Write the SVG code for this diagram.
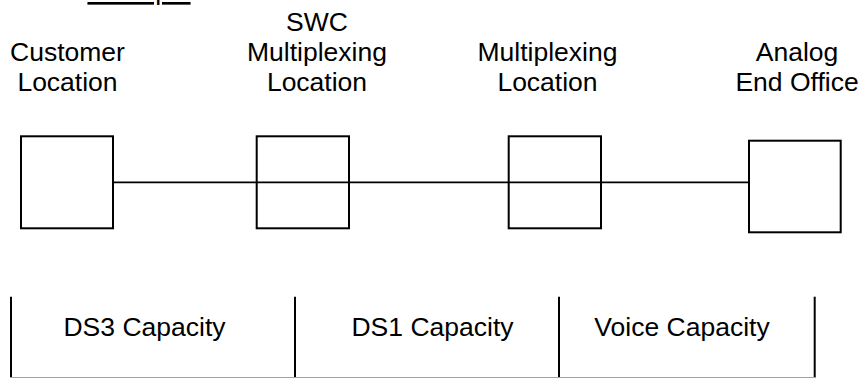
<svg xmlns="http://www.w3.org/2000/svg" width="864" height="378" viewBox="0 0 864 378">
<style>
text{font-family:"Liberation Sans",Arial,sans-serif;font-size:26.5px;fill:#000;text-anchor:middle}
.box{fill:#fff;stroke:#000;stroke-width:2}
.wire{stroke:#000;stroke-width:1.8;fill:none}
.div{stroke:#000;stroke-width:2;fill:none}
</style>
<rect width="864" height="378" fill="#fff"/>
<g id="title"><text x="139" y="0" text-decoration="underline">Example</text></g>
<g id="connectors">
<line class="wire" x1="113" y1="182.3" x2="749" y2="182.3"/>
</g>
<g id="customer">
<rect class="box" x="21" y="136.3" width="92" height="92"/>
<text x="67.5" y="61">Customer</text>
<text x="67.5" y="90.5">Location</text>
</g>
<g id="swc">
<rect class="box" x="256.7" y="136.3" width="92.3" height="92" fill-opacity="0"/>
<text x="317" y="31">SWC</text>
<text x="317" y="61">Multiplexing</text>
<text x="317" y="90.5">Location</text>
</g>
<g id="mux">
<rect class="box" x="508.7" y="136.3" width="92.3" height="92" fill-opacity="0"/>
<text x="547.5" y="61">Multiplexing</text>
<text x="547.5" y="90.5">Location</text>
</g>
<g id="endoffice">
<rect class="box" x="749" y="140.7" width="91.7" height="91.6"/>
<text x="797" y="61">Analog</text>
<text x="797" y="90.5">End Office</text>
</g>
<g id="capacity">
<line class="div" x1="11" y1="296.7" x2="11" y2="378"/>
<line class="div" x1="295" y1="296.7" x2="295" y2="378"/>
<line class="div" x1="559" y1="296.7" x2="559" y2="378"/>
<line class="div" x1="814.7" y1="296.7" x2="814.7" y2="378"/>
<line x1="10" y1="377.5" x2="816" y2="377.5" stroke="#a0a0a0" stroke-width="1"/>
<text x="144.5" y="336">DS3 Capacity</text>
<text x="432.5" y="336">DS1 Capacity</text>
<text x="682" y="336">Voice Capacity</text>
</g>
</svg>
